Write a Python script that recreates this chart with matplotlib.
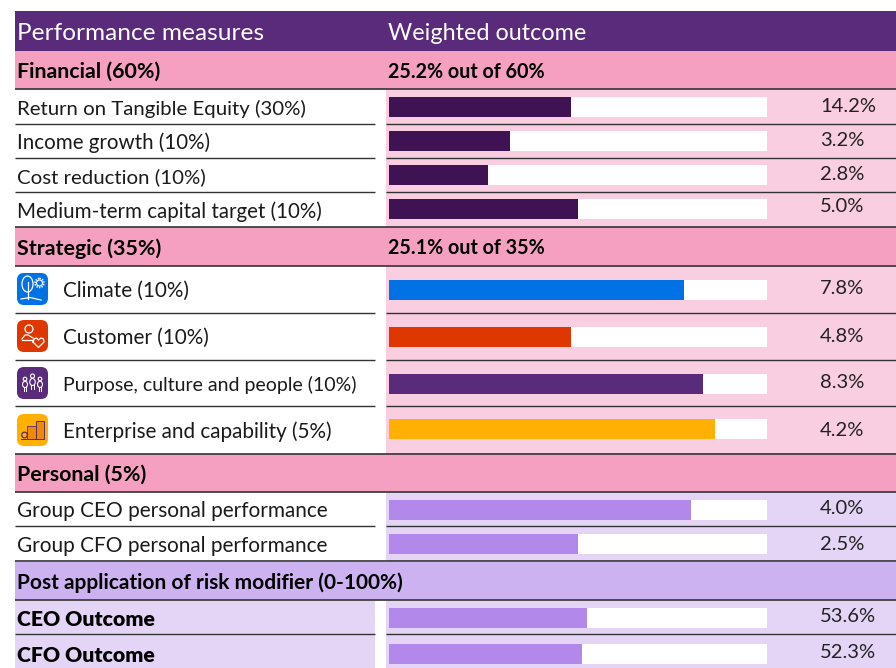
import matplotlib
matplotlib.use('Agg')
import matplotlib.pyplot as plt
from matplotlib.patches import FancyBboxPatch, Circle, Ellipse, Rectangle, Polygon

plt.rcParams['font.family'] = ['Lato', 'DejaVu Sans']

# chart data
header_labels = ['Performance measures', 'Weighted outcome']
band_labels = ['Financial (60%)', 'Strategic (35%)', 'Personal (5%)',
               'Post application of risk modifier (0-100%)']
band_scores = ['25.2% out of 60%', '25.1% out of 35%', '', '']
row_labels = ['Return on Tangible Equity (30%)', 'Income growth (10%)', 'Cost reduction (10%)',
              'Medium-term capital target (10%)', 'Climate (10%)', 'Customer (10%)',
              'Purpose, culture and people (10%)', 'Enterprise and capability (5%)',
              'Group CEO personal performance', 'Group CFO personal performance',
              'CEO Outcome', 'CFO Outcome']
bar_fill = [48.1, 32, 26.2, 50, 78, 48.1, 83, 86.2, 80, 50, 52.4, 51]
value_labels = ['14.2%', '3.2%', '2.8%', '5.0%', '7.8%', '4.8%', '8.3%', '4.2%',
                '4.0%', '2.5%', '53.6%', '52.3%']

# colours
PURPLE = '#5A2A7B'
PINK = '#F5A0C0'
LIGHT_PINK = '#F9CEE0'
LILAC_BAND = '#CDB2F1'
LILAC_LIGHT = '#E4D5F7'
LILAC_BAR = '#B388EB'
DARK = '#3F1254'
bar_colors = [DARK] * 4 + ['#0072E5', '#DE3800', PURPLE, '#FFB000'] + [LILAC_BAR] * 4
shade_colors = [LIGHT_PINK] * 8 + [LILAC_LIGHT] * 4

# layout in pixels
W, H = 896, 668
band_tops = [51, 227, 454, 562]
band_bottoms = [89, 265.5, 492, 600]
row_lines = [89, 123.5, 157.5, 191.5, 227, 265.5, 312.5, 359.5, 406, 453.5, 492, 526, 561, 600, 634]
row_tops = [89, 123.5, 157.5, 191.5, 265.5, 312.5, 359.5, 406, 492, 526, 600, 634]
row_bottoms = [123.5, 157.5, 191.5, 227, 312.5, 359.5, 406, 453.5, 526, 561, 634, 668]
bar_tops = [97, 131, 165, 199, 280, 327, 374, 419, 500, 534, 608, 644]
label_y = [109, 143, 177, 212, 291, 338, 385, 432, 511, 546, 620, 656]
value_y = [106, 140, 174, 207, 289, 336, 382, 430, 509, 544, 617, 653]
label_size = [14.7, 14.8, 14.7, 14.8, 14.85, 14.85, 14, 14.85, 14.95, 14.95, 15.3, 15.3]
BAR_H = 20
BAR_X0, BAR_X1 = 389, 767

fig = plt.figure(figsize=(W / 100, H / 100), dpi=100, facecolor='white')
ax = fig.add_axes([0, 0, 1, 1])
ax.set_xlim(0, W)
ax.set_ylim(H, 0)
ax.axis('off')

# header and section bands
ax.add_patch(Rectangle((15, 11), W - 15, 40, fc=PURPLE, ec='none'))
ax.text(17, 33, header_labels[0], color='white', fontsize=17.6, va='center')
ax.text(388, 33, header_labels[1], color='white', fontsize=16.8, va='center')

for i in range(len(band_labels)):
    col = LILAC_BAND if i == 3 else PINK
    mid = (band_tops[i] + band_bottoms[i]) / 2 + 2
    ax.add_patch(Rectangle((15, band_tops[i]), W - 15, band_bottoms[i] - band_tops[i], fc=col, ec='none'))
    size = 15 if i == 3 else 15.4
    ax.text(17, mid, band_labels[i], color='black', fontsize=size, fontweight='bold', va='center')
    ax.text(388, mid, band_scores[i], color='black', fontsize=14.2, fontweight='bold', va='center')

# right hand shading, and the left cells of the two outcome rows
for i in range(len(row_labels)):
    ax.add_patch(Rectangle((386, row_tops[i]), W - 386, row_bottoms[i] - row_tops[i], fc=shade_colors[i], ec='none'))
    if i >= 10:
        ax.add_patch(Rectangle((15, row_tops[i]), 360, row_bottoms[i] - row_tops[i], fc=LILAC_LIGHT, ec='none'))

# row labels
for i, label in enumerate(row_labels):
    x = 63 if 4 <= i <= 7 else 17
    weight = 'heavy' if i >= 10 else 'normal'
    ax.text(x, label_y[i], label, color='#1a1a1a' if i < 10 else 'black', fontsize=label_size[i],
            fontweight=weight, va='center')
    ax.text(820, value_y[i], value_labels[i], color='#222222', fontsize=14.5, va='center')

# separators
for y in row_lines:
    if y in band_tops or y in band_bottoms or y in (227, 453.5, 561, 600):
        ax.plot([15, W], [y, y], color='#333333', lw=1.2, solid_capstyle='butt')
    else:
        ax.plot([15, 375], [y, y], color='#333333', lw=1, solid_capstyle='butt')
        ax.plot([386, W], [y, y], color='#333333', lw=1, solid_capstyle='butt')

# bars, on their own axes from 0 to 100% of the track
ax_bar = fig.add_axes([BAR_X0 / W, 0, (BAR_X1 - BAR_X0) / W, 1])
ax_bar.set_xlim(0, 100)
ax_bar.set_ylim(H, 0)
ax_bar.axis('off')
ax_bar.patch.set_alpha(0)
bar_y = [t + BAR_H / 2 for t in bar_tops]
ax_bar.barh(bar_y, [100] * len(bar_y), height=BAR_H, color='white')
ax_bar.barh(bar_y, bar_fill, height=BAR_H, color=bar_colors)


# small icons next to the strategic rows
def icon_box(y, color):
    ax.add_patch(FancyBboxPatch((23, y + 6), 19, 20, boxstyle='round,pad=6,rounding_size=7',
                                fc=color, ec='none', zorder=3))


def line(xs, ys, color='white', lw=0.9):
    ax.plot(xs, ys, color=color, lw=lw, zorder=4)


def person(x, y, s):
    ax.add_patch(Circle((x, y), 2 * s, fc='none', ec='white', lw=0.8, zorder=4))
    ax.add_patch(Ellipse((x, y + 6 * s), 5.5 * s, 7 * s, fc='none', ec='white', lw=0.8, zorder=4))
    line([x - 1.3 * s, x - 1.3 * s], [y + 9 * s, y + 13 * s], lw=0.7)
    line([x + 1.3 * s, x + 1.3 * s], [y + 9 * s, y + 13 * s], lw=0.7)


icon_box(273, '#0072E5')
ax.add_patch(Ellipse((27.5, 284), 11, 16, fc='none', ec='white', lw=0.9, zorder=4))
line([27.5, 27.5], [282, 299])
line([21, 30, 41], [299, 297.5, 300])
ax.add_patch(Circle((39.5, 283), 3, fc='none', ec='white', lw=0.8, zorder=4))
ax.add_patch(Circle((39.5, 283), 4.5, fc='none', ec='white', lw=1.2, ls=(0, (0.8, 0.8)), zorder=4))

icon_box(320, '#DE3800')
ax.add_patch(Circle((29, 329), 4, fc='none', ec='white', lw=0.9, zorder=4))
line([22, 25, 28, 33], [339, 335, 335, 338])
line([22, 33], [340, 340])
line([33, 34, 36.5, 38.5, 41, 43.5, 44, 38.5, 33], [342, 339, 338, 340, 338, 339, 342, 347.5, 342])

icon_box(367, PURPLE)
person(25, 379, 0.9)
person(32.5, 376, 1)
person(40, 379, 0.9)

icon_box(414, '#FFB000')
ax.add_patch(Rectangle((27, 426), 9, 13, fc='#F08A00', ec=PURPLE, lw=0.6, zorder=4))
ax.add_patch(Rectangle((36, 421), 7.5, 18, fc='#F08A00', ec=PURPLE, lw=0.7, zorder=4))
ax.add_patch(Circle((24.5, 435), 2.8, fc='none', ec=PURPLE, lw=0.9, zorder=4))
ax.add_patch(Polygon([(21, 439), (45, 439), (45, 440), (21, 440)], fc=PURPLE, ec='none', zorder=4))

plt.savefig('out.png', dpi=100, facecolor='white')
